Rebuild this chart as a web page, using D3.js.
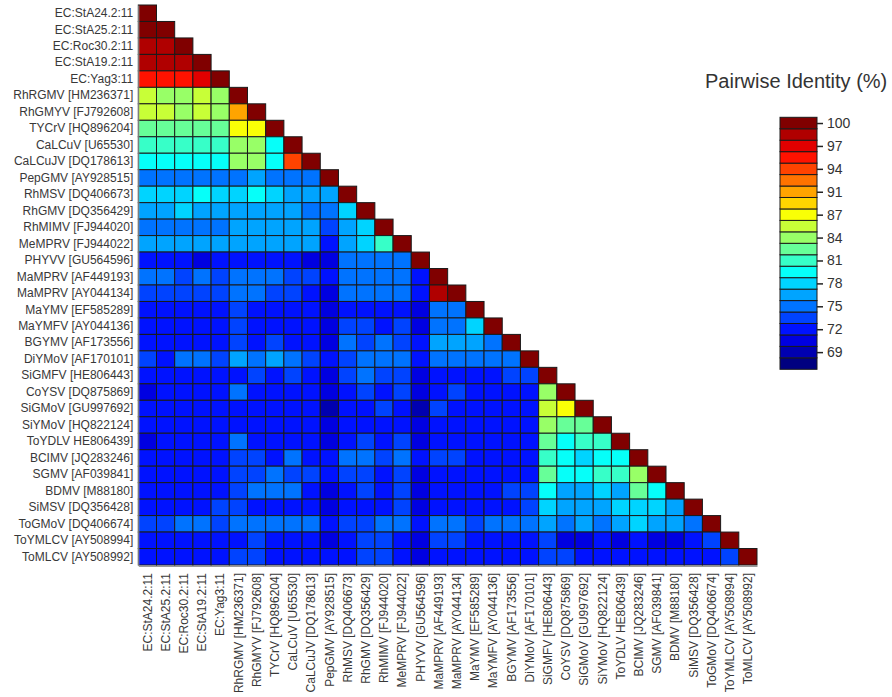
<!DOCTYPE html>
<html>
<head>
<meta charset="utf-8">
<script src="https://cdn.jsdelivr.net/npm/d3@7"></script>
<style>
  body { margin: 0; background: #fff; }
  text { font-family: Arial, "Liberation Sans", sans-serif; }
</style>
</head>
<body>
<div id="chart"></div>
<script>
// sequence names (rows top->bottom, columns left->right)
const names = [
  "EC:StA24.2:11", "EC:StA25.2:11", "EC:Roc30.2:11", "EC:StA19.2:11", "EC:Yag3:11",
  "RhRGMV [HM236371]", "RhGMYV [FJ792608]", "TYCrV [HQ896204]", "CaLCuV [U65530]",
  "CaLCuJV [DQ178613]", "PepGMV [AY928515]", "RhMSV [DQ406673]", "RhGMV [DQ356429]",
  "RhMIMV [FJ944020]", "MeMPRV [FJ944022]", "PHYVV [GU564596]", "MaMPRV [AF449193]",
  "MaMPRV [AY044134]", "MaYMV [EF585289]", "MaYMFV [AY044136]", "BGYMV [AF173556]",
  "DiYMoV [AF170101]", "SiGMFV [HE806443]", "CoYSV [DQ875869]", "SiGMoV [GU997692]",
  "SiYMoV [HQ822124]", "ToYDLV HE806439]", "BCIMV [JQ283246]", "SGMV [AF039841]",
  "BDMV [M88180]", "SiMSV [DQ356428]", "ToGMoV [DQ406674]", "ToYMLCV [AY508994]",
  "ToMLCV [AY508992]"
];

// pairwise identity (%), lower triangle, row i has i+1 values
const identity = [
  [100],
  [99.6, 100],
  [98.0, 97.9, 100],
  [97.9, 97.8, 98.4, 100],
  [95.6, 95.1, 95.2, 96.2, 100],
  [85.9, 84.5, 84.6, 85.2, 84.4, 100],
  [85.3, 85.1, 84.7, 85.2, 84.8, 90.6, 100],
  [82.6, 82.4, 82.0, 82.3, 82.5, 87.5, 86.8, 100],
  [81.0, 80.9, 80.8, 81.1, 81.3, 84.1, 83.9, 79.6, 100],
  [79.4, 79.3, 79.6, 79.5, 79.2, 84.0, 84.2, 79.8, 93.2, 100],
  [74.6, 75.0, 74.4, 74.5, 74.9, 75.2, 76.1, 75.1, 74.6, 74.4, 100],
  [78.0, 78.2, 78.4, 79.6, 78.1, 78.5, 79.7, 78.0, 76.3, 76.6, 76.4, 100],
  [76.5, 76.3, 77.6, 76.6, 77.0, 76.5, 77.1, 76.8, 75.9, 75.3, 74.2, 78.1, 100],
  [75.0, 75.4, 74.9, 75.5, 75.1, 76.5, 76.9, 76.2, 76.4, 76.7, 73.4, 76.3, 78.3, 100],
  [76.6, 76.3, 76.5, 76.2, 76.4, 76.0, 76.4, 75.9, 76.3, 76.6, 71.8, 76.1, 78.0, 81.3, 100],
  [71.8, 71.6, 71.7, 70.6, 71.9, 72.3, 71.8, 71.7, 72.2, 70.3, 70.2, 74.6, 74.5, 74.9, 74.6, 100],
  [74.4, 74.5, 73.8, 74.4, 73.9, 74.9, 74.5, 74.4, 73.8, 73.3, 71.7, 75.0, 75.1, 75.5, 75.6, 72.0, 100],
  [73.8, 73.7, 73.2, 73.3, 73.8, 74.9, 74.4, 73.8, 73.7, 72.4, 70.8, 74.5, 74.6, 75.5, 75.0, 72.1, 98.0, 100],
  [72.3, 72.1, 72.4, 71.9, 72.3, 73.4, 72.0, 72.4, 72.1, 71.0, 69.9, 72.2, 72.3, 72.4, 72.4, 70.4, 75.5, 75.4, 100],
  [72.1, 72.0, 72.2, 72.4, 72.3, 73.3, 72.4, 72.3, 72.4, 71.1, 70.3, 73.2, 73.4, 72.3, 73.3, 70.9, 75.5, 75.1, 78.0, 100],
  [72.1, 72.4, 72.0, 72.3, 72.4, 73.3, 72.3, 73.4, 72.4, 72.2, 70.5, 74.3, 73.8, 74.4, 73.9, 72.0, 76.4, 76.5, 76.0, 75.5, 100],
  [73.0, 72.4, 75.0, 75.3, 73.7, 76.0, 74.6, 75.7, 75.0, 73.6, 71.6, 73.6, 75.6, 75.1, 74.2, 72.1, 74.6, 74.5, 74.1, 74.6, 74.7, 100],
  [72.0, 71.1, 72.1, 72.0, 72.4, 72.3, 73.3, 72.3, 73.4, 71.0, 70.4, 73.2, 75.0, 73.1, 73.2, 70.9, 72.0, 72.1, 72.0, 72.4, 73.3, 73.4, 100],
  [70.6, 72.0, 71.0, 72.1, 72.0, 75.5, 72.1, 72.0, 72.4, 72.3, 70.0, 72.1, 73.3, 72.3, 73.3, 70.0, 72.4, 73.2, 72.3, 72.0, 72.4, 72.3, 84.4, 100],
  [72.0, 72.1, 72.4, 72.0, 72.3, 72.4, 72.3, 72.1, 72.0, 72.4, 69.2, 72.1, 72.0, 73.3, 72.4, 69.0, 73.2, 72.1, 72.0, 72.1, 72.4, 72.0, 85.9, 86.9, 100],
  [71.0, 72.1, 72.0, 71.1, 72.0, 72.3, 72.1, 72.4, 72.0, 72.1, 70.0, 72.0, 72.4, 72.1, 72.3, 69.6, 72.1, 72.0, 72.1, 72.0, 72.4, 72.1, 85.0, 83.0, 82.7, 100],
  [70.6, 72.0, 71.0, 71.0, 72.1, 75.0, 72.0, 72.4, 72.3, 72.4, 70.0, 72.3, 73.8, 72.0, 73.3, 70.5, 72.4, 72.3, 72.4, 72.3, 72.1, 72.0, 82.5, 80.2, 80.6, 81.2, 100],
  [72.3, 72.4, 72.3, 72.1, 72.4, 73.3, 73.8, 72.4, 74.5, 72.3, 71.0, 74.4, 75.0, 73.8, 75.1, 71.1, 73.3, 73.8, 72.0, 72.4, 72.3, 72.4, 81.8, 79.4, 78.6, 79.2, 79.7, 100],
  [72.0, 72.1, 72.0, 72.1, 72.0, 73.3, 73.2, 74.5, 73.3, 73.2, 71.0, 73.3, 73.8, 72.4, 73.8, 70.5, 72.1, 72.4, 72.3, 72.4, 72.3, 72.0, 82.5, 79.6, 79.9, 81.2, 81.0, 84.0, 100],
  [71.0, 71.1, 72.0, 71.0, 72.1, 73.3, 74.5, 74.4, 74.6, 72.3, 70.2, 72.3, 73.8, 72.4, 73.3, 70.2, 72.4, 72.3, 72.4, 72.3, 73.3, 73.2, 79.4, 76.2, 76.6, 77.8, 76.5, 82.5, 79.6, 100],
  [72.0, 72.1, 72.4, 72.0, 73.3, 73.2, 72.3, 72.4, 72.3, 72.4, 70.6, 72.3, 72.1, 72.4, 73.8, 70.2, 72.4, 72.3, 72.4, 72.0, 72.3, 73.3, 78.3, 76.5, 77.0, 76.0, 78.0, 78.1, 77.3, 76.5, 100],
  [73.3, 73.8, 75.0, 75.1, 73.8, 75.0, 75.5, 75.4, 75.5, 74.5, 72.3, 73.8, 73.9, 74.5, 75.0, 72.0, 74.5, 74.6, 73.8, 74.5, 74.6, 74.5, 77.0, 75.0, 76.5, 75.0, 76.0, 77.5, 76.0, 76.5, 75.5, 100],
  [72.0, 72.4, 72.3, 72.4, 72.1, 72.3, 73.3, 72.4, 72.3, 72.4, 70.6, 72.3, 73.3, 73.2, 72.4, 70.2, 73.8, 73.3, 72.4, 72.3, 72.4, 72.3, 74.0, 70.6, 70.0, 71.0, 70.6, 71.0, 70.3, 70.0, 71.0, 73.3, 100],
  [72.0, 72.4, 72.3, 72.4, 72.3, 73.3, 73.2, 72.4, 72.3, 72.4, 71.0, 72.3, 73.3, 73.2, 72.4, 70.6, 72.4, 72.3, 72.4, 72.3, 72.4, 72.3, 73.8, 73.0, 72.0, 72.1, 72.4, 72.3, 72.0, 71.0, 72.0, 72.4, 73.3, 100]
];

// colour bar labels, top to bottom
const legendTicks = [100, 97, 94, 91, 87, 84, 81, 78, 75, 72, 69];
const colorMin = 66.2, colorMax = 100.8, nBands = 22;

const W = 892, H = 697;
const svg = d3.select("#chart").append("svg")
    .attr("width", W)
    .attr("height", H)
    .attr("viewBox", `0 0 ${W} ${H}`);

// jet colormap, quantised into bands
function jet(t) {
  const c = v => Math.round(255 * Math.max(0, Math.min(1, v)));
  return d3.rgb(c(1.5 - Math.abs(4 * t - 3)), c(1.5 - Math.abs(4 * t - 2)), c(1.5 - Math.abs(4 * t - 1))).formatHex();
}
const palette = d3.range(nBands).map(i => jet(i / (nBands - 1)));
const color = d3.scaleQuantize().domain([colorMin, colorMax]).range(palette);

const x = d3.scaleBand().domain(names).range([138.3, 757]);
const y = d3.scaleBand().domain(names).range([5, 565]);

const cells = [];
identity.forEach((row, i) => row.forEach((v, j) => cells.push({ r: names[i], c: names[j], v: v })));

svg.append("g")
  .selectAll("rect")
  .data(cells)
  .join("rect")
    .attr("x", d => x(d.c))
    .attr("y", d => y(d.r))
    .attr("width", x.bandwidth())
    .attr("height", y.bandwidth())
    .attr("fill", d => color(d.v))
    .attr("stroke", "#1a1a1a")
    .attr("stroke-width", 1);

// row labels
const yAxis = svg.append("g")
    .attr("transform", "translate(138.3,0)")
    .call(d3.axisLeft(y).tickSize(0).tickSizeOuter(0).tickPadding(5));
yAxis.select(".domain").attr("stroke", "#9a9a9a");
yAxis.selectAll("text").attr("font-size", 12).attr("fill", "#383838");

// column labels, rotated
const xAxis = svg.append("g")
    .attr("transform", "translate(0,566)")
    .call(d3.axisBottom(x).tickSize(0).tickSizeOuter(0));
xAxis.select(".domain").attr("stroke", "#9a9a9a");
xAxis.selectAll("text")
    .attr("font-size", 12)
    .attr("fill", "#383838")
    .attr("transform", "rotate(-90)")
    .attr("text-anchor", "end")
    .attr("x", -7)
    .attr("y", 0)
    .attr("dy", "0.35em");

// colour bar
const barTop = 117.3, barBottom = 369.3, barX = 780, barW = 37;
const yLeg = d3.scaleLinear().domain([colorMin, colorMax]).range([barBottom, barTop]);
const step = (colorMax - colorMin) / nBands;

svg.append("g")
  .selectAll("rect")
  .data(palette)
  .join("rect")
    .attr("x", barX)
    .attr("y", (d, i) => yLeg(colorMin + (i + 1) * step))
    .attr("width", barW)
    .attr("height", yLeg(colorMin) - yLeg(colorMin + step))
    .attr("fill", d => d)
    .attr("stroke", "#1a1a1a")
    .attr("stroke-width", 1);

const tickScale = d3.scalePoint()
    .domain(legendTicks)
    .range([yLeg(colorMax - step / 2), yLeg(colorMax - step * 20.5)]);
const legAxis = svg.append("g")
    .attr("transform", `translate(${barX + barW},0)`)
    .call(d3.axisRight(tickScale).tickSize(6).tickPadding(4));
legAxis.select(".domain").remove();
legAxis.selectAll("line").attr("stroke", "#222").attr("stroke-width", 1.5);
legAxis.selectAll("text").attr("font-size", 14).attr("fill", "#333");

svg.append("text")
    .attr("x", 705)
    .attr("y", 88)
    .attr("font-size", 20)
    .attr("fill", "#333")
    .text("Pairwise Identity (%)");
</script>
</body>
</html>
